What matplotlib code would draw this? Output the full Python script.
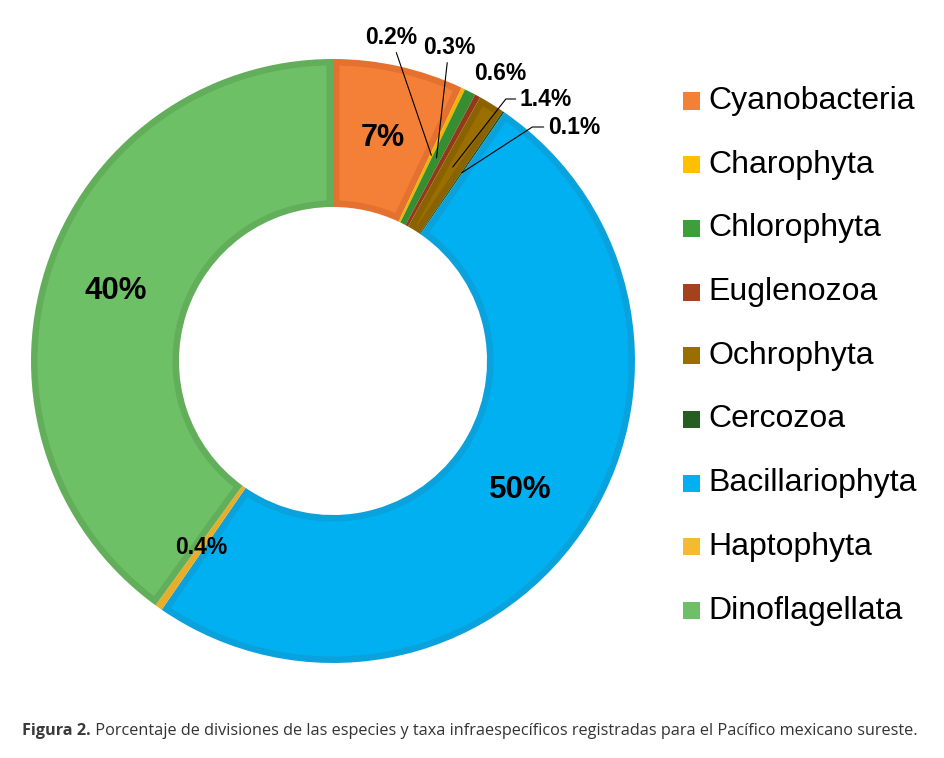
import numpy as np
import matplotlib
matplotlib.use('Agg')
import matplotlib.pyplot as plt
from matplotlib.patches import Rectangle, Polygon

# ================= 数据 ===================

divisions = ['Cyanobacteria', 'Charophyta', 'Chlorophyta', 'Euglenozoa', 'Ochrophyta',
             'Cercozoa', 'Bacillariophyta', 'Haptophyta', 'Dinoflagellata']
# wedge sizes as they appear in the figure (%)
shares = [7, 0.2, 0.6, 0.3, 1.4, 0.1, 50, 0.4, 40]
# label texts as printed on the figure
pct_labels = ['7%', '0.2%', '0.3%', '0.6%', '1.4%', '0.1%', '50%', '0.4%', '40%']

fill_colors = ['#F47F36', '#FFC000', '#3E9E3A', '#A3421C', '#9A6F00',
               '#245E20', '#00B0F0', '#F5BA2E', '#6EC067']
edge_colors = ['#E47130', '#F2B400', '#368E33', '#93391A', '#8A6300',
               '#1F531C', '#0AA2DC', '#E8AE28', '#62AE5A']

caption_bold = 'Figura 2.'
caption_rest = (' Porcentaje de divisiones de las especies y taxa infraespecíficos '
                'registradas para el Pacífico mexicano sureste.')

plt.rcParams['font.family'] = ['Liberation Sans', 'DejaVu Sans']

# ================= 画图 ===================

W, H = 944, 758
cx, cy, R = 333, 361, 302  # donut centre / outer radius in pixels
fig = plt.figure(figsize=(W / 100, H / 100), dpi=100)
ax = fig.add_axes([(cx - R) / W, (H - cy - R) / H, 2 * R / W, 2 * R / H])

ring = 0.49
wedges, _ = ax.pie(shares, colors=edge_colors, startangle=90, counterclock=False,
                   radius=1.0, wedgeprops=dict(width=ring, linewidth=0))
ax.set_xlim(-1, 1)
ax.set_ylim(-1, 1)
ax.axis('off')

# lighter fill inset inside every slice -> darker outline like the original
b = 6.5 / R
ro, ri = 1.0 - b, 1.0 - ring + b
for w, fc in zip(wedges, fill_colors):
    t1, t2 = np.deg2rad(w.theta1), np.deg2rad(w.theta2)
    a_o, a_i = np.arcsin(b / ro), np.arcsin(b / ri)
    if t2 - t1 <= 2 * a_i:
        continue
    th_o = np.linspace(t1 + a_o, t2 - a_o, 200)
    th_i = np.linspace(t2 - a_i, t1 + a_i, 200)
    pts = np.vstack([np.column_stack([ro * np.cos(th_o), ro * np.sin(th_o)]),
                     np.column_stack([ri * np.cos(th_i), ri * np.sin(th_i)])])
    ax.add_patch(Polygon(pts, closed=True, facecolor=fc, edgecolor='none'))

# label anchors at mid angle of each wedge
mid_angles = [np.deg2rad((w.theta1 + w.theta2) / 2) for w in wedges]
r_lab = 0.755

big = {0: 22, 6: 22.5, 8: 22.5}
for i in big:
    ax.text(r_lab * np.cos(mid_angles[i]), r_lab * np.sin(mid_angles[i]), pct_labels[i],
            ha='center', va='center', fontsize=big[i], fontweight='bold', color='black')

# Haptophyta label sits on the slice itself
ax.text(r_lab * np.cos(mid_angles[7]), r_lab * np.sin(mid_angles[7]), pct_labels[7],
        ha='center', va='center', fontsize=16.5, fontweight='bold', color='black')

# small slices: labels outside with leader lines (pixel positions of the label centres)
out_pos = {1: (391, 37), 2: (449, 47), 3: (500, 74), 4: (546, 99), 5: (574, 127)}
elbow = {4: 52, 5: 33}   # leader lines with a short horizontal stub
for i, (px, py) in out_pos.items():
    xt, yt = (px - cx) / R, (cy - py) / R
    anchor = (r_lab * np.cos(mid_angles[i]), r_lab * np.sin(mid_angles[i]))
    if i == 3:
        props = None
    else:
        props = dict(arrowstyle='-', color='black', lw=0.8, shrinkA=1, shrinkB=0)
        if i in elbow:
            props['connectionstyle'] = f'angle,angleA=0,angleB={elbow[i]},rad=0'
    ax.annotate(pct_labels[i], xy=anchor, xytext=(xt, yt), ha='center', va='center',
                fontsize=16.5, fontweight='bold', color='black',
                arrowprops=props, annotation_clip=False)

# ================= 图例 ===================

leg_y0, leg_dy = 101, 63.7
for k, (name, col) in enumerate(zip(divisions, fill_colors)):
    yc = leg_y0 + k * leg_dy
    fig.patches.append(Rectangle((683 / W, 1 - (yc + 8.5) / H), 17 / W, 17 / H,
                                 transform=fig.transFigure, facecolor=col,
                                 edgecolor='none'))
    fig.text(708 / W, 1 - yc / H, name, ha='left', va='center', fontsize=23,
             color='black')

# ================= 图注 ===================

cap_size = 11.7
t1 = fig.text(22 / W, 1 - 731 / H, caption_bold, ha='left', va='center',
              fontsize=cap_size, fontweight='bold', color='#3a3a3a',
              family=['Open Sans', 'DejaVu Sans'])
plt.annotate(caption_rest, xy=(1, 0), xycoords=t1, ha='left', va='bottom',
             fontsize=cap_size, color='#333333', family=['Open Sans', 'DejaVu Sans'])

fig.savefig('out.png', dpi=100, facecolor='white')
